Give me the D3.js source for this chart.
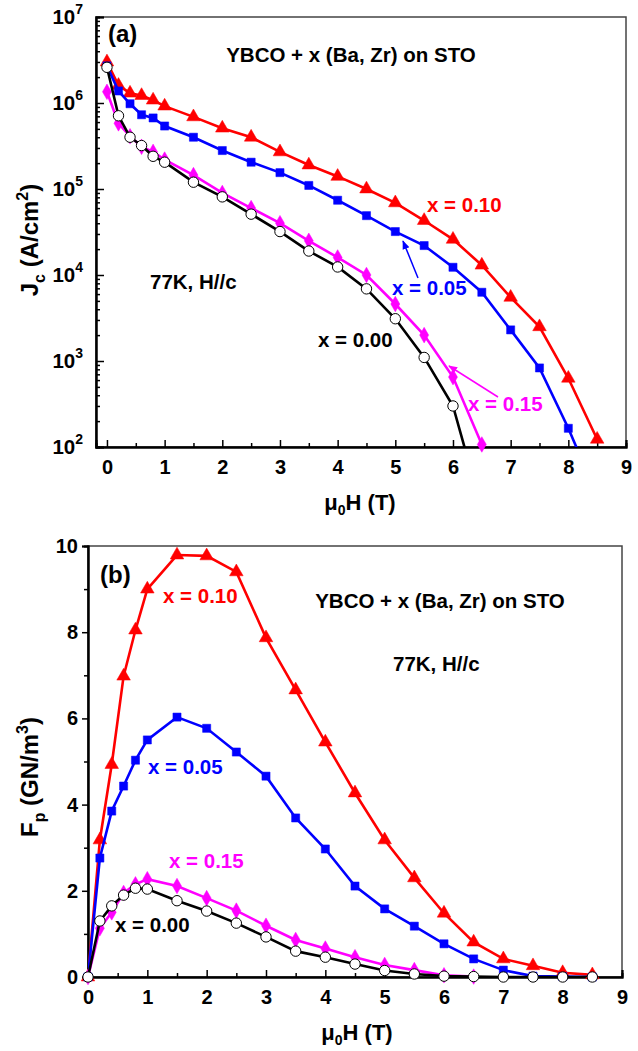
<!DOCTYPE html>
<html>
<head>
<meta charset="utf-8">
<script src="https://cdn.jsdelivr.net/npm/d3@7"></script>
<style>
body { margin: 0; background: #fff; }
text { font-family: "Liberation Sans", Arial, sans-serif; font-weight: bold; }
</style>
</head>
<body>
<svg width="638" height="1051"></svg>
<script>
// applied field (T)
var field = [0, 0.2, 0.4, 0.6, 0.8, 1, 1.5, 2, 2.5, 3, 3.5, 4, 4.5, 5, 5.5, 6, 6.5, 7, 7.5, 8, 8.5];

// Jc (A/cm2), panel (a)
var jcX010 = [3.0e6, 1.6e6, 1.3e6, 1.22e6, 1.08e6, 9.2e5, 6.9e5, 5.1e5, 4.0e5, 2.7e5, 1.9e5, 1.4e5, 1.0e5, 6.9e4, 4.3e4, 2.6e4, 1.3e4, 5.5e3, 2.5e3, 630, 123];
var jcX005 = [2.7e6, 1.38e6, 9.8e5, 7.3e5, 6.7e5, 5.4e5, 4.0e5, 2.8e5, 2.05e5, 1.55e5, 1.1e5, 7.4e4, 4.9e4, 3.2e4, 2.2e4, 1.23e4, 6.3e3, 2.3e3, 830, 165, 27];
var jcX015 = [1.35e6, 5.8e5, 4.1e5, 3.1e5, 2.7e5, 2.2e5, 1.45e5, 9e4, 6e4, 4e4, 2.5e4, 1.6e4, 1.0e4, 4.6e3, 2.0e3, 650, 107];
var jcX000 = [2.6e6, 7.1e5, 4.0e5, 3.2e5, 2.4e5, 2.05e5, 1.2e5, 8.1e4, 5.1e4, 3.2e4, 1.9e4, 1.24e4, 6.9e3, 3.1e3, 1.1e3, 300, 19];

// Fp (GN/m3), panel (b)
var fpX010 = [0, 3.18, 4.93, 6.98, 8.05, 9.0, 9.79, 9.77, 9.40, 7.87, 6.66, 5.45, 4.27, 3.18, 2.30, 1.48, 0.81, 0.42, 0.26, 0.10, 0.05];
var fpX005 = [0, 2.76, 3.85, 4.43, 5.03, 5.5, 6.03, 5.77, 5.22, 4.66, 3.69, 2.97, 2.11, 1.58, 1.18, 0.77, 0.42, 0.16, 0.02, 0.01, 0];
var fpX015 = [0, 1.13, 1.5, 1.95, 2.15, 2.27, 2.11, 1.83, 1.54, 1.19, 0.86, 0.66, 0.46, 0.28, 0.16, 0.04, 0.01];
var fpX000 = [0, 1.3, 1.65, 1.9, 2.06, 2.04, 1.77, 1.53, 1.25, 0.93, 0.6, 0.46, 0.3, 0.15, 0.07, 0.02, 0.01, 0, 0, 0, 0];

var xTicks = [0, 1, 2, 3, 4, 5, 6, 7, 8, 9];
var jcTicks = [1e2, 1e3, 1e4, 1e5, 1e6, 1e7];
var fpTicks = [0, 2, 4, 6, 8, 10];

var svg = d3.select("svg");
var font = "'Liberation Sans', Arial, sans-serif";

// series styling: colour + marker
var styles = [
  { name: "x010", color: "#ff0000", symbol: d3.symbolTriangle, size: 80, fill: "#ff0000" },
  { name: "x005", color: "#0000ff", symbol: d3.symbolSquare, size: 66, fill: "#0000ff" },
  { name: "x015", color: "#ff00ff", symbol: d3.symbolDiamond, size: 70, fill: "#ff00ff" },
  { name: "x000", color: "#000000", symbol: d3.symbolCircle, size: 85, fill: "#ffffff" }
];

function pairs(vals) {
  return vals.map(function(v, i) { return { h: field[i], v: v }; });
}

function drawSeries(g, x, y, series, clipId) {
  series.forEach(function(s, k) {
    var st = styles[k];
    var pts = pairs(s);
    g.append("path")
      .datum(pts)
      .attr("clip-path", "url(#" + clipId + ")")
      .attr("fill", "none")
      .attr("stroke", st.color)
      .attr("stroke-width", 2.6)
      .attr("d", d3.line().x(function(d) { return x(d.h); }).y(function(d) { return y(d.v); }));
    var vis = pts.filter(function(d) { return y(d.v) <= y.range()[0] + 1; });
    g.selectAll(".m" + st.name)
      .data(vis)
      .enter()
      .append("path")
      .attr("transform", function(d) { return "translate(" + x(d.h) + "," + y(d.v) + ")"; })
      .attr("d", d3.symbol().type(st.symbol).size(st.size))
      .attr("fill", st.fill)
      .attr("stroke", st.color)
      .attr("stroke-width", st.name == "x000" ? 1 : 0.5);
  });
}

function frame(g, w, h) {
  g.append("rect")
    .attr("width", w).attr("height", h)
    .attr("fill", "none").attr("stroke", "#444").attr("stroke-width", 1.5);
}

function styleAxis(sel) {
  sel.select(".domain").attr("stroke", "#000").attr("stroke-width", 2);
  sel.selectAll(".tick line").attr("stroke", "#000").attr("stroke-width", 1.5);
  sel.selectAll("text").attr("font-family", font).attr("font-weight", "bold").attr("font-size", 20).attr("fill", "#000");
}

function label(g, txt, px, py, color, size) {
  g.append("text").attr("x", px).attr("y", py).attr("fill", color || "#000")
    .attr("font-size", size || 20.5).text(txt);
}

function arrow(g, x1, y1, x2, y2, color, id) {
  svg.append("defs").append("marker")
    .attr("id", id).attr("viewBox", "0 0 10 10").attr("refX", 9).attr("refY", 5)
    .attr("markerWidth", 6).attr("markerHeight", 6).attr("orient", "auto")
    .append("path").attr("d", "M0,1 L10,5 L0,9 z").attr("fill", color);
  g.append("line").attr("x1", x1).attr("y1", y1).attr("x2", x2).attr("y2", y2)
    .attr("stroke", color).attr("stroke-width", 1.5).attr("marker-end", "url(#" + id + ")");
}

// ---------- panel (a) ----------
var a = { left: 96, top: 17, right: 626, bottom: 447 };
var wA = a.right - a.left, hA = a.bottom - a.top;
var gA = svg.append("g").attr("transform", "translate(" + a.left + "," + a.top + ")");
var xA = d3.scaleLinear().domain([-0.19, 9]).range([0, wA]);
var yA = d3.scaleLog().domain([1e2, 1e7]).range([hA, 0]);

svg.append("clipPath").attr("id", "clipA").append("rect").attr("width", wA).attr("height", hA);
frame(gA, wA, hA);

// x axis (ticks inward)
gA.append("g").attr("transform", "translate(0," + hA + ")")
  .call(d3.axisBottom(xA).tickValues(d3.range(0.5, 9, 1)).tickSize(-4).tickFormat(""))
  .call(styleAxis);
gA.append("g").attr("transform", "translate(0," + hA + ")")
  .call(d3.axisBottom(xA).tickValues(xTicks).tickSize(-7).tickPadding(13).tickFormat(d3.format("d")))
  .call(styleAxis);

// y axis (log, ticks inward)
var minorA = yA.ticks().filter(function(v) { return jcTicks.indexOf(v) < 0; });
gA.append("g").call(d3.axisLeft(yA).tickValues(minorA).tickSize(-4).tickFormat("")).call(styleAxis);
gA.append("g").call(d3.axisLeft(yA).tickValues(jcTicks).tickSize(-8).tickFormat("")).call(styleAxis);
jcTicks.forEach(function(v) {
  var t = gA.append("text").attr("x", -13).attr("y", yA(v) + 7).attr("text-anchor", "end").attr("font-size", 20.5);
  t.append("tspan").text("10");
  t.append("tspan").attr("dy", -10).attr("font-size", 14).text(Math.round(Math.log10(v)));
});

drawSeries(gA, xA, yA, [jcX010, jcX005, jcX015, jcX000], "clipA");

// axis titles (a)
svg.append("text").attr("transform", "translate(38,240) rotate(-90)").attr("text-anchor", "middle")
  .attr("font-size", 24)
  .call(function(t) {
    t.append("tspan").text("J");
    t.append("tspan").attr("dy", 7).attr("font-size", 16).text("c");
    t.append("tspan").attr("dy", -7).text(" (A/cm");
    t.append("tspan").attr("dy", -10).attr("font-size", 16).text("2");
    t.append("tspan").attr("dy", 10).text(")");
  });
function xTitle(px, py) {
  svg.append("text").attr("x", px).attr("y", py).attr("text-anchor", "middle").attr("font-size", 22)
    .call(function(t) {
      t.append("tspan").text("\u03bc");
      t.append("tspan").attr("dy", 5).attr("font-size", 14).text("0");
      t.append("tspan").attr("dy", -5).text("H (T)");
    });
}
xTitle(360, 510);

// annotations (a)
label(svg, "(a)", 108, 42, "#000", 24);
svg.append("text").attr("x", 351).attr("y", 62).attr("text-anchor", "middle").attr("font-size", 20.5).text("YBCO + x (Ba, Zr) on STO");
label(svg, "77K, H//c", 150, 289);
label(svg, "x = 0.10", 427, 212, "#ff0000");
label(svg, "x = 0.05", 392, 295, "#0000ff");
label(svg, "x = 0.00", 318, 347, "#000");
label(svg, "x = 0.15", 468, 411, "#ff00ff");
arrow(svg, 418, 278, 403, 241, "#0000ff", "arrB");
arrow(svg, 498, 397, 449, 366, "#ff00ff", "arrM");

// ---------- panel (b) ----------
var b = { left: 88, top: 546, right: 622, bottom: 977 };
var wB = b.right - b.left, hB = b.bottom - b.top;
var gB = svg.append("g").attr("transform", "translate(" + b.left + "," + b.top + ")");
var xB = d3.scaleLinear().domain([0, 9]).range([0, wB]);
var yB = d3.scaleLinear().domain([0, 10]).range([hB, 0]);

svg.append("clipPath").attr("id", "clipB").append("rect").attr("width", wB).attr("height", hB);
frame(gB, wB, hB);

gB.append("g").attr("transform", "translate(0," + hB + ")")
  .call(d3.axisBottom(xB).tickValues(d3.range(0.5, 9, 1)).tickSize(-4).tickFormat(""))
  .call(styleAxis);
gB.append("g").attr("transform", "translate(0," + hB + ")")
  .call(d3.axisBottom(xB).tickValues(xTicks).tickSize(-7).tickPadding(13).tickFormat(d3.format("d")))
  .call(styleAxis);
gB.append("g").call(d3.axisLeft(yB).tickValues(d3.range(1, 10, 2)).tickSize(4).tickFormat("")).call(styleAxis);
gB.append("g").call(d3.axisLeft(yB).tickValues(fpTicks).tickSize(6).tickPadding(4).tickFormat(d3.format("d"))).call(styleAxis);

drawSeries(gB, xB, yB, [fpX010, fpX005, fpX015, fpX000], "clipB");

svg.append("text").attr("transform", "translate(38,777) rotate(-90)").attr("text-anchor", "middle")
  .attr("font-size", 24)
  .call(function(t) {
    t.append("tspan").text("F");
    t.append("tspan").attr("dy", 7).attr("font-size", 16).text("p");
    t.append("tspan").attr("dy", -7).text(" (GN/m");
    t.append("tspan").attr("dy", -10).attr("font-size", 16).text("3");
    t.append("tspan").attr("dy", 10).text(")");
  });
xTitle(357, 1040);

label(svg, "(b)", 100, 583, "#000", 24);
svg.append("text").attr("x", 440).attr("y", 608).attr("text-anchor", "middle").attr("font-size", 20.5).text("YBCO + x (Ba, Zr) on STO");
label(svg, "77K, H//c", 393, 671);
label(svg, "x = 0.10", 163, 603, "#ff0000");
label(svg, "x = 0.05", 148, 774, "#0000ff");
label(svg, "x = 0.15", 169, 868, "#ff00ff");
label(svg, "x = 0.00", 115, 932, "#000");
</script>
</body>
</html>
